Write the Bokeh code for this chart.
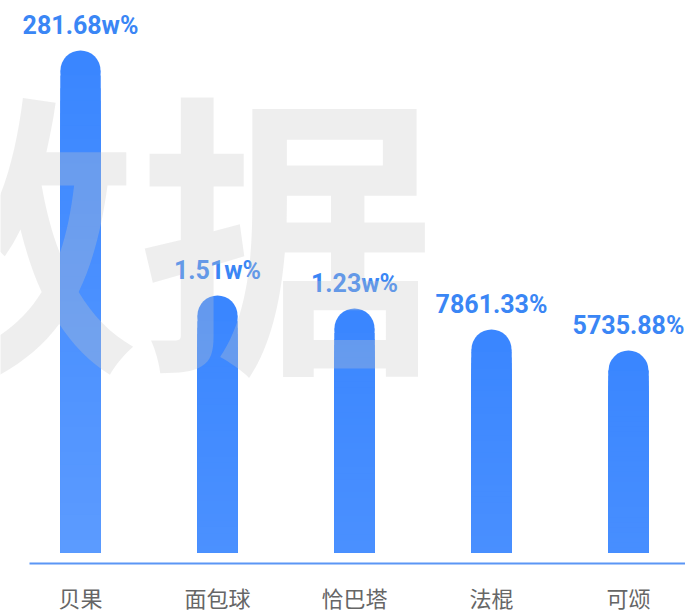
from bokeh.plotting import figure
from bokeh.models import Range1d
from bokeh.core.properties import value
from bokeh.embed import file_html
from bokeh.resources import INLINE

# ---- data ----
categories = ["贝果", "面包球", "恰巴塔", "法棍", "可颂"]
value_labels = ["281.68w%", "1.51w%", "1.23w%", "7861.33%", "5735.88%"]
bar_heights = [502, 257, 244, 223, 202]   # bar length
watermark = ["数据"]

W, H = 685, 613
x_step = 137.0
x0_px = 80.0
p = figure(width=W, height=H, output_backend="svg", toolbar_location=None,
           x_range=Range1d(-x0_px / x_step, (W - x0_px) / x_step),
           y_range=Range1d(-61, 552),
           min_border=0, min_border_left=0, min_border_right=0,
           min_border_top=0, min_border_bottom=0)
p.axis.visible = False
p.grid.visible = False
p.outline_line_color = None
p.background_fill_color = "white"

xs = list(range(len(categories)))
bw = 40 / x_step
cap = 20

# gradient bars: stacked from the bottom, tallest slice first
top_rgb = (58, 134, 255)
k = (0.068, 0.042)   # colour change per pixel going down
N = 40
lx, lt, lc = [], [], []
for i, h in enumerate(bar_heights):
    for j in range(N):
        t = h * (1 - j / N)
        if t > h - cap:
            continue
        d = h - t
        r = min(255, int(round(top_rgb[0] + k[0] * d)))
        g = min(255, int(round(top_rgb[1] + k[1] * d)))
        lx.append(i); lt.append(t); lc.append("#%02x%02x%02x" % (r, g, 255))

p.scatter(x=xs, y=[h - cap for h in bar_heights], size=2 * cap, marker="circle",
          fill_color="#3a86ff", line_color=None)
p.vbar(x=xs, top=[h - cap for h in bar_heights], bottom=0, width=bw,
       fill_color="#3a86ff", line_color=None)
p.vbar(x=lx, top=lt, bottom=0, width=bw, fill_color=lc, line_color=None)

# baseline
p.segment(x0=[(29 - x0_px) / x_step], y0=[-11], x1=[5.0], y1=[-11],
          line_color="#5b96f5", line_width=2)

# value labels
p.text(x=xs, y=bar_heights, text=value_labels, text_align="center",
       text_baseline="bottom", y_offset=-11, text_color="#3a86f5",
       text_font=value("Roboto"), text_font_style="bold", text_font_size="25px")

# category labels
p.text(x=xs, y=[-28] * len(xs), text=categories, text_align="center",
       text_baseline="top", text_color="#666666",
       text_font=value("Noto Sans CJK SC"), text_font_size="22px")

# watermark on top
p.text(x=[(138 - x0_px) / x_step], y=[552 - 375 + 155], text=watermark,
       text_align="center", text_baseline="alphabetic",
       text_font=value("Noto Sans CJK SC"), text_font_style="bold",
       text_font_size="298px", text_color="#c8c8c8", text_alpha=0.3)

open("out.html", "w").write(file_html(p, INLINE))
